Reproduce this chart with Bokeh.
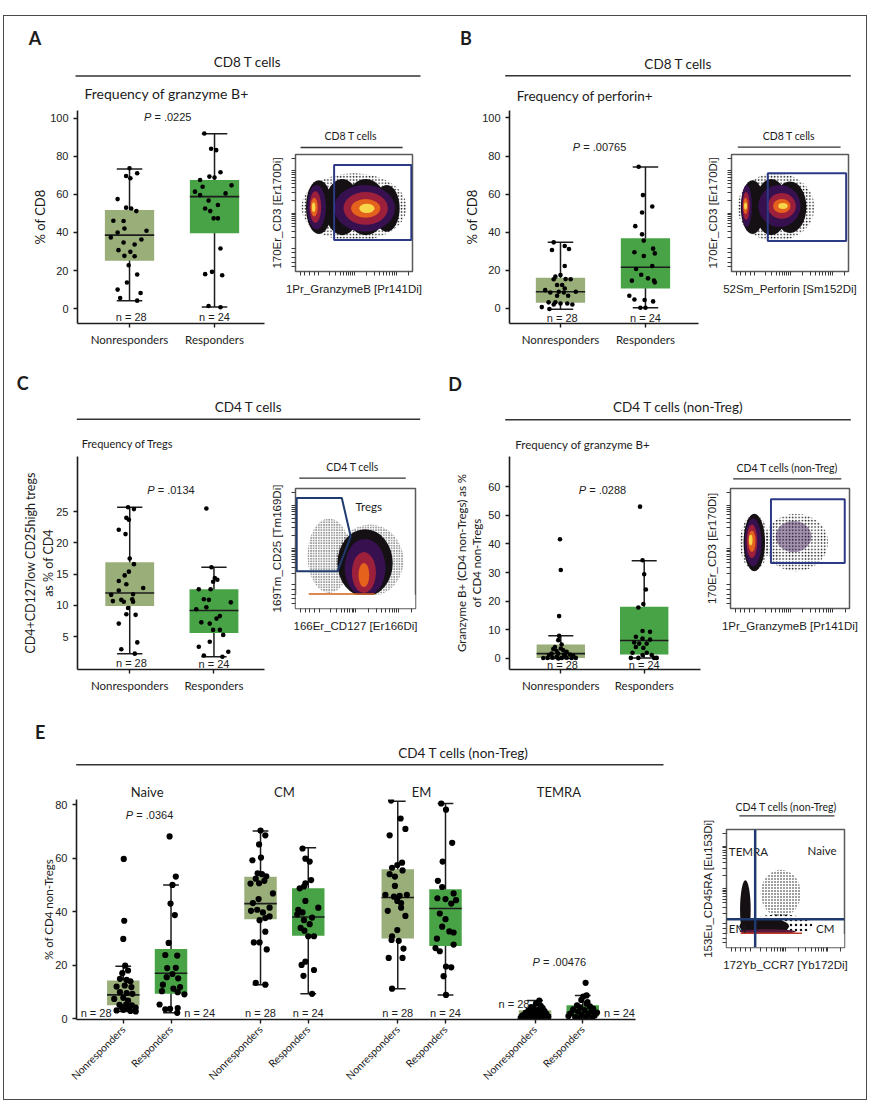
import math
from bokeh.plotting import figure
from bokeh.layouts import column, row
from bokeh.models import FixedTicker, LinearAxis
from bokeh.core.properties import value
from bokeh.embed import file_html
from bokeh.resources import INLINE

#Fonts and colours
FONT = "Lato"
NUM_FONT = "Liberation Sans"
INK = "#1c1c1c"
NR_COLOR = "#9aae7a"
R_COLOR = "#48a246"
GATE_COLOR = "#2c3a85"

GROUP_LABELS = ["Nonresponders", "Responders"]
N_LABELS = ["n = 28", "n = 24"]

#Panel A - CD8 T cells, granzyme B+ (% of CD8)
A_NR_Y = [73.7, 69.6, 68.4, 71.1, 57.5, 53.0, 52.6, 51.2, 46.1, 46.0, 42.1, 40.0, 40.9, 37.4,
          34.7, 33.7, 36.3, 30.7, 29.8, 27.7, 27.5, 22.8, 17.9, 13.7, 10.0, 8.2, 5.6, 4.2]
A_NR_DX = [0.0, -0.04, 0.01, 0.09, -0.14, -0.04, 0.02, 0.08, -0.19, -0.07, -0.06, -0.14, 0.2, -0.22,
           -0.07, 0.06, 0.14, -0.13, 0.01, -0.06, 0.06, -0.01, 0.09, -0.03, -0.14, 0.13, -0.11, 0.09]
A_R_Y = [91.9, 83.9, 83.2, 71.6, 69.3, 68.8, 67.5, 64.7, 64.0, 61.4, 60.5, 56.7, 54.4, 52.6,
         51.2, 47.4, 47.4, 31.6, 19.3, 18.1, 17.5, 1.4, 0.7, 59.6]
A_R_DX = [-0.12, -0.04, 0.02, 0.07, -0.06, 0.0, -0.17, 0.2, -0.14, -0.23, 0.13, -0.07, 0.04, -0.11,
          -0.05, -0.01, 0.04, 0.07, -0.03, -0.11, 0.09, -0.07, 0.07, -0.17]
A_BOX_NR = [4.2, 25.1, 38.6, 51.8, 73.3]   # low whisker, Q1, median, Q3, high whisker
A_BOX_R = [0.9, 39.6, 58.8, 67.5, 91.8]

#Panel B - CD8 T cells, perforin+ (% of CD8)
B_NR_Y = [34.7, 30.7, 32.8, 31.2, 22.3, 17.5, 16.7, 15.4, 15.3, 15.3, 12.3, 12.3, 9.6, 8.4,
          8.8, 8.4, 8.8, 6.7, 6.7, 3.2, 3.2, 2.6, 2.6, 2.1, 0.7, -0.3, 2.1, 10.5]
B_NR_DX = [-0.08, -0.1, 0.05, 0.1, 0.05, 0.0, -0.06, 0.06, -0.08, 0.12, -0.04, 0.02, -0.18, -0.12,
           -0.02, 0.04, 0.18, -0.04, 0.09, -0.14, -0.06, 0.0, 0.08, 0.14, -0.22, -0.13, -0.08, 0.05]
B_R_Y = [74.4, 59.5, 53.5, 50.4, 43.2, 38.9, 35.6, 29.5, 31.4, 28.9, 27.5, 20.7, 22.3, 17.7,
         14.6, 15.8, 14.7, 13.7, 6.7, 4.7, 4.4, 3.7, 0.4, 0.4]
B_R_DX = [-0.08, -0.03, 0.08, -0.04, -0.12, -0.04, -0.02, -0.13, 0.09, 0.11, -0.02, -0.11, 0.08, -0.05,
          -0.16, 0.03, 0.1, 0.11, -0.19, -0.13, -0.01, 0.09, -0.06, 0.0]
B_BOX_NR = [-0.4, 3.0, 8.8, 16.1, 34.7]
B_BOX_R = [0.4, 10.5, 21.6, 36.8, 74.2]

#Panel C - CD4 T cells, Tregs (% of CD4)
C_NR_Y = [25.7, 25.4, 24.0, 23.7, 22.1, 21.4, 17.5, 16.6, 15.4, 14.8, 13.9, 13.4, 12.8, 12.4,
          11.8, 11.7, 10.9, 10.6, 10.7, 10.6, 11.0, 9.6, 8.6, 8.5, 7.1, 4.1, 3.0, 2.3]
C_NR_DX = [-0.02, 0.05, -0.04, -0.01, -0.13, -0.05, 0.0, 0.05, -0.01, -0.06, -0.13, -0.04, 0.16, -0.13,
           0.04, -0.22, -0.1, 0.04, -0.2, -0.07, 0.03, -0.02, -0.04, 0.07, -0.13, 0.09, -0.1, 0.06]
C_R_Y = [25.5, 16.1, 14.4, 14.1, 13.8, 12.6, 12.6, 11.0, 10.9, 10.5, 9.4, 9.7, 7.3, 7.1,
         8.3, 6.1, 6.1, 5.3, 4.2, 3.4, 2.6, 2.0, 1.8, 7.9]
C_R_DX = [-0.09, -0.03, 0.01, 0.04, -0.01, -0.18, -0.04, -0.12, -0.06, 0.2, -0.21, -0.09, -0.15, -0.05,
          0.07, -0.01, 0.07, 0.11, -0.05, -0.18, 0.17, -0.12, 0.1, 0.03]
C_BOX_NR = [2.3, 9.9, 12.0, 16.9, 25.7]
C_BOX_R = [1.8, 5.6, 9.2, 12.6, 16.1]

#Panel D - CD4 non-Treg, granzyme B+
D_NR_Y = [41.6, 30.9, 14.8, 7.9, 6.4, 4.9, 3.3, 2.6, 2.9, 2.3, 1.7, 1.7, 1.4, 1.4,
          0.2, 0.3, 0.6, 0.2, 0.3, 0.2, 0.2, 4.0, 3.5, 1.2, 0.9, 0.2, 0.9, 0.0]
D_NR_DX = [-0.01, 0.0, -0.02, -0.02, -0.03, 0.01, -0.09, -0.05, 0.03, 0.07, -0.11, -0.03, 0.04, 0.11,
           -0.16, -0.1, -0.05, 0.01, 0.07, 0.13, 0.18, -0.07, 0.0, -0.14, 0.15, -0.21, 0.05, -0.03]
D_R_Y = [53.0, 34.3, 29.4, 24.1, 19.0, 17.8, 9.6, 9.3, 7.6, 7.0, 6.6, 5.6, 5.2, 5.2,
         4.0, 3.7, 0.2, 0.2, 1.2, 1.2, 0.2, 2.0, 2.0, 0.2]
D_R_DX = [-0.05, -0.02, 0.0, 0.02, -0.01, -0.07, -0.02, 0.07, -0.1, -0.02, 0.07, -0.12, -0.06, 0.03,
          -0.1, -0.01, -0.16, -0.07, -0.02, 0.09, 0.12, 0.03, -0.14, 0.15]
D_BOX_NR = [0.0, 0.2, 1.7, 4.9, 7.9]
D_BOX_R = [0.2, 1.4, 6.3, 18.1, 34.1]

#Panel E - CD4 non-Treg subsets (% of CD4 non-Tregs)
E_SUBSETS = ["Naive", "CM", "EM", "TEMRA"]
E_GROUP_X = [0, 2.875, 5.75, 8.625]
E_NR_Y = [
    [59.7, 36.6, 29.8, 19.8, 17.0, 18.0, 14.9, 14.5, 14.0, 12.0, 12.4, 11.8, 9.9, 9.6,
     9.3, 7.4, 7.8, 6.8, 5.2, 5.3, 5.0, 3.1, 3.3, 2.9, 2.7, 4.3, 3.7, 4.1],
    [70.3, 68.5, 65.1, 59.2, 60.2, 54.3, 54.0, 53.2, 52.3, 50.6, 50.5, 46.8, 43.2, 40.7,
     39.7, 41.5, 40.3, 36.8, 37.6, 38.2, 32.5, 28.5, 28.5, 25.9, 13.4, 12.7, 44.7, 51.5],
    [81.5, 74.8, 70.9, 68.5, 58.3, 57.4, 56.4, 55.4, 54.0, 53.1, 46.3, 45.6, 45.9, 46.3,
     44.0, 40.3, 38.4, 33.1, 30.8, 29.1, 29.4, 26.2, 22.7, 22.7, 11.2, 43.2, 41.5, 49.6],
    [6.8, 5.6, 4.8, 4.3, 4.0, 3.6, 3.2, 3.0, 2.8, 2.6, 2.4, 2.2, 2.0, 1.8,
     1.6, 1.5, 1.3, 1.2, 1.0, 0.9, 0.8, 0.7, 0.6, 0.5, 0.4, 0.3, 0.2, 0.1],
]
E_NR_DX = [
    [0.01, 0.02, 0.0, 0.04, -0.02, 0.1, -0.07, 0.07, 0.15, -0.14, 0.03, 0.17, -0.07, 0.07,
     0.19, -0.19, 0.0, 0.1, -0.08, 0.06, 0.18, -0.14, 0.0, 0.15, 0.26, -0.03, 0.1, 0.26],
    [0.0, 0.1, -0.03, -0.17, 0.01, -0.06, 0.03, 0.12, -0.1, -0.03, -0.21, 0.26, -0.16, -0.07,
     0.05, 0.19, -0.2, -0.02, 0.1, 0.19, 0.1, -0.14, -0.02, 0.13, -0.1, 0.1, -0.04, 0.08],
    [-0.14, 0.06, 0.16, -0.17, 0.09, -0.01, -0.12, 0.1, -0.17, -0.06, -0.26, -0.08, 0.04, 0.19,
     -0.01, -0.21, 0.16, -0.01, -0.12, 0.02, -0.13, 0.12, -0.19, 0.1, -0.12, 0.07, 0.07, -0.06],
    [0.09, 0.02, 0.12, -0.08, 0.16, -0.02, 0.06, -0.14, 0.2, -0.05, 0.1, -0.2, 0.03, 0.24,
     -0.11, 0.14, -0.26, 0.0, 0.19, -0.17, 0.08, -0.06, 0.28, -0.22, 0.12, -0.3, 0.04, -0.12],
]
E_R_Y = [
    [68.1, 53.1, 50.0, 43.0, 38.7, 28.3, 23.8, 23.6, 18.9, 19.0, 16.7, 15.5, 15.1, 12.7,
     11.8, 11.2, 10.3, 9.1, 9.9, 5.3, 3.5, 3.7, 4.0, 2.2],
    [63.6, 59.8, 58.7, 51.8, 50.6, 48.7, 49.4, 41.5, 44.0, 40.7, 39.7, 37.8, 36.8, 33.9,
     32.9, 30.8, 30.8, 21.3, 20.1, 18.2, 16.0, 9.3, 39.0, 35.3],
    [80.4, 78.1, 65.7, 58.7, 51.5, 49.2, 46.8, 45.0, 44.7, 44.3, 43.0, 39.3, 37.2, 34.4,
     32.6, 32.2, 29.9, 27.7, 26.4, 25.2, 19.5, 19.2, 15.9, 8.9],
    [13.4, 8.7, 8.3, 7.0, 6.2, 5.6, 5.0, 4.6, 4.2, 3.8, 3.5, 3.2, 2.9, 2.6,
     2.3, 2.0, 1.7, 1.4, 1.2, 1.0, 0.8, 0.6, 0.4, 0.2],
]
E_R_DX = [
    [-0.03, 0.1, 0.03, -0.01, 0.08, -0.05, -0.12, 0.13, -0.08, 0.1, 0.03, -0.09, 0.15, -0.17,
     0.19, 0.05, -0.19, 0.28, 0.14, -0.24, -0.12, -0.02, 0.14, 0.13],
    [-0.12, -0.06, 0.03, 0.06, -0.06, -0.18, -0.09, 0.21, -0.06, -0.21, -0.12, 0.08, -0.09, -0.16,
     -0.08, 0.0, 0.12, -0.06, -0.14, 0.12, -0.1, 0.08, -0.23, 0.03],
    [-0.09, 0.01, 0.14, -0.06, -0.16, -0.07, 0.17, -0.17, 0.0, 0.22, 0.12, -0.12, 0.0, -0.07,
     0.08, 0.17, -0.18, 0.17, -0.21, -0.12, 0.01, 0.12, -0.04, 0.01],
    [0.06, 0.08, 0.01, -0.03, 0.1, 0.08, -0.12, 0.15, -0.05, 0.22, -0.2, 0.04, 0.18, -0.1,
     0.3, -0.25, 0.12, -0.02, 0.25, -0.3, 0.07, -0.16, 0.2, -0.08],
]
E_BOX_NR = [[2.7, 5.0, 8.9, 14.3, 19.6], [12.7, 37.2, 43.0, 53.0, 70.1],
            [11.2, 30.0, 45.3, 55.8, 81.2], [0.1, 0.4, 1.5, 3.2, 6.8]]
E_BOX_R = [[2.2, 9.3, 17.0, 26.0, 50.0], [9.3, 31.0, 38.0, 48.7, 63.9],
           [8.9, 27.2, 41.2, 48.4, 80.4], [0.2, 0.9, 2.4, 5.0, 8.7]]
E_N_DX_NR = [-0.57, 0.0, 0.0, -0.44]
E_N_Y_NR = [2.1, 2.1, 2.1, 5.6]
E_N_DX_R = [0.6, 0.0, 0.0, 0.77]
E_N_Y_R = [2.1, 2.1, 2.1, 2.1]

#Flow plots (axes 0-100): density layers as ellipses x, y, w, h, colour
HEAT = ["#141014", "#36104f", "#9c1f3c", "#e5621d", "#f8d64a"]
FA_X = [20, 40, 60, 78, 18, 59, 17, 60, 16, 60, 15.5, 61]
FA_Y = [55, 55, 55, 54, 55, 54, 55, 54, 55, 54, 55, 54]
FA_W = [22, 30, 36, 22, 16, 52, 10, 38, 6, 25, 3, 13]
FA_H = [46, 48, 48, 40, 38, 40, 27, 28, 16, 16, 8, 8]
FA_C = [HEAT[0]] * 4 + [HEAT[1]] * 2 + [HEAT[2]] * 2 + [HEAT[3]] * 2 + [HEAT[4]] * 2
FA_DOT = [50, 55, 90, 58]
FA_GATE = [33, 99, 27, 91]  # left, right, bottom, top

FB_X = [18, 34, 50, 13, 41, 12.5, 43, 12, 43, 12, 44]
FB_Y = [55, 55, 55, 56, 56, 56, 56, 56, 56, 56, 56]
FB_W = [20, 28, 28, 9, 36, 6, 24, 4, 15, 2.5, 8]
FB_H = [46, 48, 44, 36, 36, 24, 22, 14, 12, 6, 5]
FB_C = [HEAT[0]] * 3 + [HEAT[1]] * 2 + [HEAT[2]] * 2 + [HEAT[3]] * 2 + [HEAT[4]] * 2
FB_DOT = [38, 55, 66, 58]
FB_GATE = [31, 98, 26, 84]

FC_X = [58, 58, 57, 57]
FC_Y = [38, 34, 30, 28]
FC_W = [46, 34, 20, 9]
FC_H = [56, 48, 34, 20]
FC_C = [HEAT[0], HEAT[1], HEAT[2], HEAT[3]]
FC_DOT = [[28, 62], [44, 40], [36, 56], [62, 60]]
FC_FLOOR = 11.5
FC_EDGE = [11, 66]
FC_GATE_X = [1, 38.6, 46, 35, 1]
FC_GATE_Y = [92, 92, 60, 31, 31]

FD_X = [20, 19, 18, 18, 17]
FD_Y = [55, 55, 56, 56, 57]
FD_W = [18, 14, 9, 6, 3]
FD_H = [48, 40, 28, 18, 9]
FD_C = HEAT
FD_DOT = [[20, 55], [55, 55], [24, 54], [46, 48]]
FD_GATE = [34, 96, 38, 91]

FE_X = [16, 32, 35]
FE_Y = [32, 18, 13.5]
FE_W = [9, 42, 48]
FE_H = [50, 14, 4]
FE_C = [HEAT[0], HEAT[0], "#5a1a3c"]
FE_DOT = [[45, 46], [19, 46], [56, 34], [18, 40]]
FE_FLOOR = 11.5
FE_EDGE = [12, 64]
FE_CUT = [24.3, 24]  # CCR7 cut, CD45RA cut

FLOW_TICKS = [4, 8, 12, 16, 20, 50, 86] + [a + (b - a) * math.log10(k)
                                          for a, b in [(20, 50), (50, 86), (86, 122)] for k in range(2, 10)]


def pixel_fig(w, h):
    p = figure(width=w, height=h, x_range=(0, w), y_range=(h, 0), toolbar_location=None,
               output_backend="svg", x_axis_location=None, y_axis_location=None, min_border=0)
    p.grid.visible = False
    p.outline_line_color = None
    return p


def put_text(p, x, y, s, size, align="left", style="normal", font=FONT):
    p.text(x=[x], y=[y], text=[s], text_font=value(font), text_font_size=size, text_align=align,
           text_baseline="middle", text_font_style=style, text_color=INK)


def header(w, h, letter, lxy, title, txy, line, sub=None, sxy=None, sub_size="14px"):
    p = pixel_fig(w, h)
    put_text(p, lxy[0], lxy[1], letter, "18px", "center", "bold")
    put_text(p, txy[0], txy[1], title, "13.5px", "center")
    p.line(x=[line[0], line[1]], y=[line[2], line[2]], line_color="#333333", line_width=1.5)
    if sub:
        put_text(p, sxy[0], sxy[1], sub, sub_size)
    return p


def flow_head(w, h, title, txy, line):
    p = pixel_fig(w, h)
    put_text(p, txy[0], txy[1], title, "10.5px", "center")
    p.line(x=[line[0], line[1]], y=[line[2], line[2]], line_color="#333333", line_width=1.3)
    return p


def box_fig(w, h, borders, xr, yr, yticks, ylabel, label_size, label_standoff):
    left, right, top, bottom = borders
    p = figure(width=w, height=h, x_range=xr, y_range=yr, toolbar_location=None, output_backend="svg",
               min_border_left=left, min_border_right=right, min_border_top=top, min_border_bottom=bottom)
    p.grid.visible = False
    p.outline_line_color = None
    for ax in (p.xaxis[0], p.yaxis[0]):
        ax.axis_line_color = INK
        ax.axis_line_width = 1.6
        ax.major_tick_line_color = INK
        ax.major_tick_line_width = 1.4
        ax.major_tick_out = 4
        ax.major_tick_in = 0
        ax.minor_tick_line_color = None
        ax.major_label_text_color = INK
    p.yaxis.ticker = FixedTicker(ticks=yticks)
    p.yaxis.major_label_text_font = NUM_FONT
    p.yaxis.major_label_text_font_size = "11px"
    p.yaxis.major_label_standoff = 5
    p.yaxis.axis_label = ylabel
    p.yaxis.axis_label_text_font = FONT
    p.yaxis.axis_label_text_font_style = "normal"
    p.yaxis.axis_label_text_font_size = label_size
    p.yaxis.axis_label_text_color = INK
    p.yaxis.axis_label_standoff = label_standoff
    p.xaxis.major_label_text_font = FONT
    p.xaxis.major_label_text_font_size = "11.5px"
    p.xaxis.major_label_standoff = 5
    return p


def two_group_axis(p):
    p.xaxis.ticker = FixedTicker(ticks=[0, 1])
    p.xaxis.major_label_overrides = {0: GROUP_LABELS[0], 1: GROUP_LABELS[1]}


def draw_group(p, xc, box, ys, dxs, color, box_w, cap_w, size):
    lo, q1, med, q3, hi = box
    p.segment(x0=[xc], y0=[lo], x1=[xc], y1=[hi], line_color=INK, line_width=1.5)
    p.segment(x0=[xc - cap_w / 2] * 2, y0=[lo, hi], x1=[xc + cap_w / 2] * 2, y1=[lo, hi],
              line_color=INK, line_width=1.5)
    p.vbar(x=[xc], width=box_w, bottom=[q1], top=[q3], fill_color=color, line_color=None)
    p.segment(x0=[xc - box_w / 2], y0=[med], x1=[xc + box_w / 2], y1=[med], line_color=INK, line_width=1.6)
    p.scatter(x=[xc + d for d in dxs], y=ys, size=size, fill_color="black", line_color=None)


CHAR_W = {"=": 6.4, " ": 3.1, ".": 3.1}


def p_value(p, x, y, txt):
    rest = "= " + txt
    rest_w = sum(CHAR_W.get(c, 6.1) for c in rest)
    left = -(7.3 + 3.1 + rest_w) / 2
    p.text(x=[x], y=[y], text=["P"], x_offset=left, text_font=value(NUM_FONT), text_font_size="11px",
           text_font_style="italic", text_align="left", text_baseline="middle", text_color=INK)
    p.text(x=[x], y=[y], text=[rest], x_offset=left + 10.4, text_font=value(NUM_FONT), text_font_size="11px",
           text_align="left", text_baseline="middle", text_color=INK)


def n_labels(p, xs, ys, texts):
    p.text(x=xs, y=ys, text=texts, text_font=value(NUM_FONT), text_font_size="11px", text_align="center",
           text_baseline="middle", text_color=INK)


def flow_fig(w, h, borders, xlabel, ylabel):
    left, right, top, bottom = borders
    p = figure(width=w, height=h, x_range=(0, 100), y_range=(0, 100), toolbar_location=None,
               output_backend="svg", min_border_left=left, min_border_right=right,
               min_border_top=top, min_border_bottom=bottom)
    p.grid.visible = False
    p.outline_line_color = "#5a5a5a"
    p.outline_line_width = 1.5
    for ax, lab, std in ((p.xaxis[0], xlabel, 7), (p.yaxis[0], ylabel, 9)):
        # unlabelled cytometry-style ticks: all drawn as minor ticks
        ax.ticker = FixedTicker(ticks=[], minor_ticks=FLOW_TICKS)
        ax.axis_line_color = None
        ax.minor_tick_out = 4
        ax.minor_tick_in = 0
        ax.minor_tick_line_color = "#3a3a3a"
        ax.major_label_standoff = 0
        ax.axis_label = lab
        ax.axis_label_text_font = NUM_FONT
        ax.axis_label_text_font_style = "normal"
        ax.axis_label_text_font_size = "11.5px"
        ax.axis_label_text_color = INK
        ax.axis_label_standoff = std
    return p


def blobs(p, xs, ys, ws, hs, cs):
    p.ellipse(x=xs, y=ys, width=ws, height=hs, fill_color=cs, line_color=None)


def dots(p, x, y, w, h, scale=3.2, weight=1.4):
    p.ellipse(x=[x], y=[y], width=w, height=h, fill_color=None, line_color=None,
              hatch_pattern=".", hatch_color="#111111", hatch_scale=scale, hatch_weight=weight)


def gate_box(p, g):
    p.quad(left=[g[0]], right=[g[1]], bottom=[g[2]], top=[g[3]], fill_color=None,
           line_color=GATE_COLOR, line_width=2)


#Box plot figures
def two_group_panel(w, h, borders, xr, yr, yticks, ylabel, lsize, lstd, box_nr, nr_y, nr_dx,
                    box_r, r_y, r_dx, pval, pxy, n_y):
    p = box_fig(w, h, borders, xr, yr, yticks, ylabel, lsize, lstd)
    two_group_axis(p)
    draw_group(p, 0, box_nr, nr_y, nr_dx, NR_COLOR, 0.58, 0.3, 4.6)
    draw_group(p, 1, box_r, r_y, r_dx, R_COLOR, 0.58, 0.3, 4.6)
    p_value(p, pxy[0], pxy[1], pval)
    n_labels(p, [0.02, 1.0], n_y, N_LABELS)
    return p


box_a = two_group_panel(261, 263, (73, 1, 7, 43), (-0.612, 1.588), (-7.8, 104.0), [0, 20, 40, 60, 80, 100],
                        "% of CD8", "13px", -1, A_BOX_NR, A_NR_Y, A_NR_DX, A_BOX_R, A_R_Y, A_R_DX,
                        ".0225", (0.45, 100.4), [-4.4, -4.4])
box_b = two_group_panel(265, 263, (75, 1, 7, 43), (-0.6, 1.624), (-7.9, 103.9), [0, 20, 40, 60, 80, 100],
                        "% of CD8", "13px", -1, B_BOX_NR, B_NR_Y, B_NR_DX, B_BOX_R, B_R_Y, B_R_DX,
                        ".00765", (0.46, 85), [-4.9, -4.9])
box_c = two_group_panel(261, 247, (73, 1, 2, 32), (-0.62, 1.6), (-0.23, 33.8), [5, 10, 15, 20, 25],
                        "CD4+CD127low CD25high tregs\nas % of CD4", "12.5px", -3, C_BOX_NR, C_NR_Y, C_NR_DX,
                        C_BOX_R, C_R_Y, C_R_DX, ".0134", (0.49, 28.5), [0.73, 0.57])
box_d = two_group_panel(267, 247, (75, 1, 2, 32), (-0.615, 1.675), (-3.84, 70.5), [0, 10, 20, 30, 40, 50, 60],
                        "Granzyme B+ (CD4 non-Tregs) as %\nof CD4 non-Tregs", "11.5px", 2, D_BOX_NR, D_NR_Y,
                        D_NR_DX, D_BOX_R, D_R_Y, D_R_DX, ".0288", (0.5, 58.8), [-2.3, -2.3])

#Panel E box plot
box_e = box_fig(679, 328, (72, 48, 28, 80), (-0.98, 10.73), (-0.3, 81.9), [0, 20, 40, 60, 80],
                "% of CD4 non-Tregs", "11.5px", -3)
e_ticks = []
e_over = {}
for g in E_GROUP_X:
    e_ticks += [g, g + 1]
    e_over[g] = GROUP_LABELS[0]
    e_over[g + 1] = GROUP_LABELS[1]
box_e.xaxis.ticker = FixedTicker(ticks=e_ticks)
box_e.xaxis.major_label_overrides = e_over
box_e.xaxis.major_label_orientation = math.pi / 4
box_e.xaxis.major_label_text_font_size = "10.5px"
box_e.xaxis.major_label_standoff = 4
top_axis = LinearAxis(ticker=FixedTicker(ticks=[g + 0.5 for g in E_GROUP_X]),
                      major_label_overrides={g + 0.5: s for g, s in zip(E_GROUP_X, E_SUBSETS)},
                      axis_line_color=None, major_tick_line_color=None, minor_tick_line_color=None,
                      major_tick_out=0, major_tick_in=0, minor_tick_out=0, minor_tick_in=0,
                      major_label_standoff=0, major_label_text_font=FONT,
                      major_label_text_font_size="13px", major_label_text_color=INK)
box_e.add_layout(top_axis, "above")
for i, g in enumerate(E_GROUP_X):
    draw_group(box_e, g, E_BOX_NR[i], E_NR_Y[i], E_NR_DX[i], NR_COLOR, 0.68, 0.33, 6.2)
    draw_group(box_e, g + 1, E_BOX_R[i], E_R_Y[i], E_R_DX[i], R_COLOR, 0.68, 0.33, 6.2)
    n_labels(box_e, [g + E_N_DX_NR[i], g + 1 + E_N_DX_R[i]], [E_N_Y_NR[i], E_N_Y_R[i]], N_LABELS)
p_value(box_e, E_GROUP_X[0] + 0.55, 76, ".0364")
p_value(box_e, E_GROUP_X[3] + 0.51, 21.1, ".00476")

#Flow plots
flow_a = flow_fig(169, 217, (30, 22, 5, 95), "1Pr_GranzymeB [Pr141Di]", "170Er_CD3 [Er170Di]")
dots(flow_a, *FA_DOT)
blobs(flow_a, FA_X, FA_Y, FA_W, FA_H, FA_C)
gate_box(flow_a, FA_GATE)

flow_b = flow_fig(167, 217, (32, 18, 5, 95), "52Sm_Perforin [Sm152Di]", "170Er_CD3 [Er170Di]")
dots(flow_b, *FB_DOT)
blobs(flow_b, FB_X, FB_Y, FB_W, FB_H, FB_C)
gate_box(flow_b, FB_GATE)

flow_c = flow_fig(169, 222, (30, 19, 9, 93), "166Er_CD127 [Er166Di]", "169Tm_CD25 [Tm169Di]")
for dx_, dy_, dw_, dh_ in zip(*FC_DOT):
    dots(flow_c, dx_, dy_, dw_, dh_, 2.6, 1.8)
blobs(flow_c, FC_X, FC_Y, FC_W, FC_H, FC_C)
flow_c.quad(left=[0], right=[100], bottom=[0], top=[FC_FLOOR], fill_color="white", line_color=None)
flow_c.segment(x0=[FC_EDGE[0]], y0=[FC_FLOOR + 0.6], x1=[FC_EDGE[1]], y1=[FC_FLOOR + 0.6],
               line_color="#d2601a", line_width=1.5)
flow_c.patch(x=FC_GATE_X, y=FC_GATE_Y, fill_color=None, line_color="#1f3a6e", line_width=2)
put_text(flow_c, 61, 85, "Tregs", "11.5px", "center")

flow_d = flow_fig(165, 221, (29, 17, 8, 93), "1Pr_GranzymeB [Pr141Di]", "170Er_CD3 [Er170Di]")
for dx_, dy_, dw_, dh_ in zip(*FD_DOT):
    dots(flow_d, dx_, dy_, dw_, dh_, 3.2, 1.6)
flow_d.ellipse(x=[53], y=[60], width=30, height=26, fill_color="#3a1450", fill_alpha=0.45, line_color=None)
blobs(flow_d, FD_X, FD_Y, FD_W, FD_H, FD_C)
gate_box(flow_d, FD_GATE)

flow_e = flow_fig(183, 282, (43, 22, 12, 152), "172Yb_CCR7 [Yb172Di]", "153Eu_CD45RA [Eu153Di]")
dots(flow_e, FE_DOT[0][0], FE_DOT[1][0], FE_DOT[2][0], FE_DOT[3][0], 5)
dots(flow_e, FE_DOT[0][1], FE_DOT[1][1], FE_DOT[2][1], FE_DOT[3][1], 3)
blobs(flow_e, FE_X, FE_Y, FE_W, FE_H, FE_C)
flow_e.quad(left=[0], right=[100], bottom=[0], top=[FE_FLOOR], fill_color="white", line_color=None)
flow_e.segment(x0=[FE_EDGE[0]], y0=[FE_FLOOR + 0.6], x1=[FE_EDGE[1]], y1=[FE_FLOOR + 0.6],
               line_color="#c0392b", line_width=1.5)
put_text(flow_e, 2, 81, "TEMRA", "11.5px")
put_text(flow_e, 81, 82, "Naive", "11.5px", "center")
put_text(flow_e, 2, 16.4, "EM", "11.5px")
put_text(flow_e, 83.6, 16.4, "CM", "11.5px", "center")
flow_e.segment(x0=[FE_CUT[0], 0], y0=[0, FE_CUT[1]], x1=[FE_CUT[0], 100], y1=[100, FE_CUT[1]],
               line_color="#1f3a6e", line_width=2.5)

#Headers
head_a = header(430, 87, "A", (30.5, 21.5), "CD8 T cells", (243, 45), (71, 416, 59.5),
                "Frequency of granzyme B+", (80, 77))
head_b = header(432, 87, "B", (31.5, 21.7), "CD8 T cells", (243.7, 47), (70.7, 416.3, 59.3),
                "Frequency of perforin+", (82.3, 79), "13.5px")
head_c = header(430, 88, "C", (18.2, 16.7), "CD4 T cells", (244, 40), (72.3, 415.7, 52.7),
                "Frequency of Tregs", (77.3, 77.3), "11px")
head_d = header(432, 88, "D", (20.7, 17.5), "CD4 T cells (non-Treg)", (243.7, 40), (70.7, 416.3, 53.3),
                "Frequency of granzyme B+", (80.7, 78.3), "11.5px")
head_e = header(862, 70, "E", (35.7, 30), "CD4 T cells (non-Treg)", (459, 51.7), (71.7, 659, 63.3))

fh_a = flow_head(169, 46, "CD8 T cells", (80, 32), (7.3, 154.7, 44))
fh_b = flow_head(167, 46, "CD8 T cells", (82, 32.3), (9, 155.7, 43.7))
fh_c = flow_head(169, 25, "CD4 T cells", (80.3, 12), (5.3, 155.3, 23.7))
fh_d = flow_head(165, 26, "CD4 T cells (non-Treg)", (78.7, 13.7), (3.7, 153.7, 24.3))
fh_e = flow_head(183, 46, "CD4 T cells (non-Treg)", (92.5, 35), (20, 167.3, 44.3))

#Layout
col_a = column(head_a, row(box_a, column(fh_a, flow_a)))
col_b = column(head_b, row(box_b, column(fh_b, flow_b)))
col_c = column(head_c, row(box_c, column(fh_c, flow_c)))
col_d = column(head_d, row(box_d, column(fh_d, flow_d)))
col_e = column(head_e, row(box_e, column(fh_e, flow_e)))

# the top margin collapses into the page's own 8px margin, so it is given as the full offset
root = column(row(col_a, col_b), row(col_c, col_d), col_e,
              styles={"border": "1.5px solid #4a4a4a"}, margin=(15, 0, 0, 3))

open("out.html", "w").write(file_html(root, INLINE))
